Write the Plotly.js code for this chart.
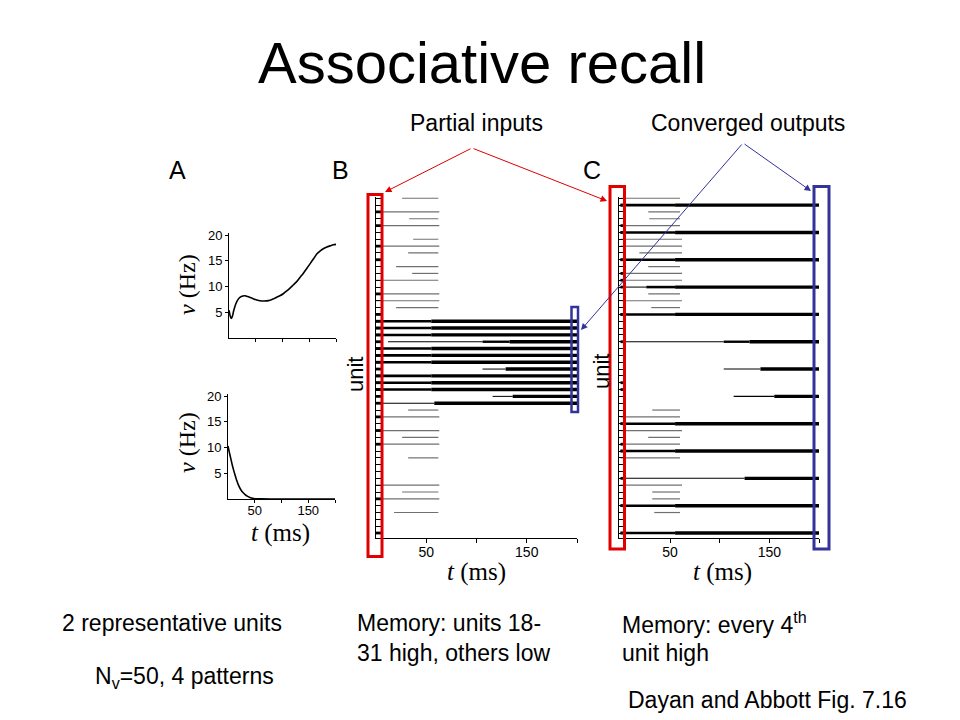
<!DOCTYPE html>
<html><head><meta charset="utf-8">
<script src="https://cdn.plot.ly/plotly-3.0.1.min.js"></script>
<style>html,body{margin:0;padding:0;background:#fff}</style>
</head><body><div id="chart" style="width:960px;height:720px"></div>
<script>
// ---------- Panel A: two representative units ----------
const tTop = [0,2,4,6,9,13,17,21,26,30,35,40,46,52,58,64,70,77,83,89,96,102,108,114,120,127,133,139,146,152,158,164,170,177,183,189,195,200];
const vTop = [5.4,4.4,3.8,4.1,5.4,6.7,7.5,7.95,8.15,8.2,8.05,7.85,7.6,7.4,7.25,7.2,7.22,7.35,7.6,7.9,8.25,8.65,9.15,9.7,10.3,11.0,11.8,12.6,13.6,14.5,15.4,16.3,16.9,17.4,17.7,17.9,18.1,18.2];
const tBot = [0,2,4,6,8,10,13,16,20,24,28,32,36,40,44,48,52,60,80,120,160,200];
const vBot = [10.3,9.3,8.4,7.5,6.6,5.8,4.7,3.7,2.6,1.8,1.25,0.85,0.55,0.35,0.2,0.1,0.05,0.02,0,0,0,0];
const aYTicks = [5,10,15,20];
const tTicks = [50,100,150,200];
const tTickText = ['50','','150',''];

// ---------- Panel B: memory units 18-31 high ----------
const bLowUnit  = [1,3,4,5,7,8,9,11,12,13,15,16,17,32,33,35,36,37,39,43,44,45,47];
const bLowStart = [26,0,33,0,37,0,32,20,36,0,0,0,20,32,0,0,26,0,32,0,26,0,18];
const bLowEnd   = [62,63,62,63,62,63,62,62,62,62,63,63,62,62,63,63,62,63,62,63,62,63,62];
const bHighUnit  = [19,19,20,20,21,21,22,22,22,23,23,24,24,25,25,26,26,27,27,28,28,29,29,30,30,31,31];
const bHighStart = [0,55,0,55,0,55,12,106,133,0,55,0,55,0,55,106,129,0,55,0,55,0,55,116,136,0,58];
const bHighEnd   = [55,200,55,200,55,200,106,133,200,55,200,55,200,55,200,129,200,55,200,55,200,55,200,136,200,58,200];
const bHighRate  = [15,20,15,20,15,20,6,14,20,15,20,15,20,15,20,6,20,15,20,15,20,15,20,6,20,7,20];
const bInputUnit = [3,5,8,10,15,18,19,20,21,22,23,24,25,26,27,28,29,30,31,33,35,37,45,50];

// ---------- Panel C: memory every 4th unit high ----------
const cLowUnit  = [1,3,4,5,7,8,9,11,12,13,15,16,17,32,33,35,36,37,39,43,44,45,47];
const cLowStart = [0,28,29,0,0,0,19,28,0,0,28,0,31,32,0,0,28,0,0,0,32,32,34];
const cLowEnd   = [60,60,60,60,62,62,62,60,62,62,60,62,60,60,60,62,60,60,60,62,60,60,60];
const cHighUnit  = [2,2,6,6,10,10,14,14,14,18,18,22,22,22,26,26,30,30,34,34,38,38,42,42,46,46,50,50];
const cHighStart = [0,55,0,55,0,55,0,26,55,0,55,0,104,130,104,141,114,155,0,55,0,55,0,125,0,55,0,55];
const cHighEnd   = [55,200,55,200,55,200,26,55,200,55,200,104,130,200,141,200,155,200,55,200,55,200,125,200,55,200,55,200];
const cHighRate  = [15,20,15,20,15,20,6,15,20,15,20,6,14,20,6,20,6,20,15,20,15,20,6,20,15,20,15,20];
const cInputUnit = [2,5,6,10,12,13,14,18,22,28,29,34,37,38,42,46,50];
const inputDuration = 5;

// ---------- helpers ----------
const W = 960, H = 720;
const P = px => px / W;
const Q = py => 1 - py / H;
const rateWidth = r => 0.17 * r;

function segTrace(units, starts, ends, xa, ya, width, color) {
  const x = [], y = [];
  for (let i = 0; i < units.length; i++) { x.push(starts[i], ends[i], null); y.push(units[i], units[i], null); }
  return {type:'scatter', mode:'lines', x, y, xaxis:xa, yaxis:ya, line:{width, color}, hoverinfo:'skip', showlegend:false};
}
function highTraces(units, starts, ends, rates, xa, ya) {
  const levels = [...new Set(rates)];
  return levels.map(lv => {
    const idx = rates.map((r,i)=> r===lv ? i : -1).filter(i=>i>=0);
    return segTrace(idx.map(i=>units[i]), idx.map(i=>starts[i]), idx.map(i=>ends[i]), xa, ya, rateWidth(lv), '#000');
  });
}
function inputTrace(units, xa, ya) {
  return segTrace(units, units.map(()=>0), units.map(()=>inputDuration), xa, ya, 2.8, '#000');
}

const traces = [
  {type:'scatter', mode:'lines', x:tTop, y:vTop, xaxis:'x', yaxis:'y', line:{color:'#000', width:1.6, shape:'spline', smoothing:0.8}, showlegend:false, hoverinfo:'skip'},
  {type:'scatter', mode:'lines', x:tBot, y:vBot, xaxis:'x2', yaxis:'y2', line:{color:'#000', width:1.6, shape:'spline'}, showlegend:false, hoverinfo:'skip'},
  segTrace(bLowUnit, bLowStart, bLowEnd, 'x3', 'y3', 1.2, '#707070'),
  ...highTraces(bHighUnit, bHighStart, bHighEnd, bHighRate, 'x3', 'y3'),
  inputTrace(bInputUnit, 'x3', 'y3'),
  segTrace(cLowUnit, cLowStart, cLowEnd, 'x4', 'y4', 1.2, '#707070'),
  ...highTraces(cHighUnit, cHighStart, cHighEnd, cHighRate, 'x4', 'y4'),
  inputTrace(cInputUnit, 'x4', 'y4')
];

const tickFont = {family:'Liberation Sans, Arial, sans-serif', size:13, color:'#000'};
const baseAxis = {showgrid:false, zeroline:false, showline:true, linecolor:'#000', linewidth:1, ticks:'outside', ticklen:4, tickcolor:'#000', tickfont:tickFont, fixedrange:true};

const unitRange = [50.73, 0.77];
const unitTicks = Array.from({length:50}, (_,i)=>i+1);

const layout = {
  width:W, height:H, autosize:false,
  margin:{l:0, r:0, t:0, b:0},
  paper_bgcolor:'#fff', plot_bgcolor:'rgba(0,0,0,0)',
  showlegend:false,
  xaxis: Object.assign({}, baseAxis, {domain:[P(229), P(336)], range:[0,200], anchor:'y', tickvals:tTicks, ticktext:['','','',''], ticklen:3}),
  yaxis: Object.assign({}, baseAxis, {domain:[Q(338), Q(233)], range:[0,20.4], anchor:'x', tickvals:aYTicks, ticklen:3}),
  xaxis2: Object.assign({}, baseAxis, {domain:[P(228), P(335)], range:[0,200], anchor:'y2', tickvals:tTicks, ticktext:tTickText, ticklen:3, ticklabelstandoff:-4}),
  yaxis2: Object.assign({}, baseAxis, {domain:[Q(499), Q(394)], range:[0,20.4], anchor:'x2', tickvals:aYTicks, ticklen:3}),
  xaxis3: Object.assign({}, baseAxis, {domain:[P(376), P(577)], range:[0,200], anchor:'y3', tickvals:tTicks, ticktext:tTickText, ticklabelstandoff:-3, tickfont:Object.assign({}, tickFont, {size:14})}),
  yaxis3: Object.assign({}, baseAxis, {domain:[Q(538), Q(196.7)], range:unitRange, anchor:'x3', tickvals:unitTicks, ticks:'inside', ticklen:5, showticklabels:false}),
  xaxis4: Object.assign({}, baseAxis, {domain:[P(619), P(819)], range:[-1.5,200], anchor:'y4', tickvals:tTicks, ticktext:tTickText, ticklabelstandoff:-3, tickfont:Object.assign({}, tickFont, {size:14})}),
  yaxis4: Object.assign({}, baseAxis, {domain:[Q(538), Q(196.7)], range:unitRange, anchor:'x4', tickvals:unitTicks, ticks:'inside', ticklen:5, showticklabels:false}),
  shapes: [
    {type:'rect', xref:'paper', yref:'paper', x0:P(368), x1:P(382), y0:Q(556.5), y1:Q(194.5), line:{color:'#e00000', width:3}},
    {type:'rect', xref:'paper', yref:'paper', x0:P(610), x1:P(624.5), y0:Q(549), y1:Q(186.5), line:{color:'#e00000', width:3}},
    {type:'rect', xref:'paper', yref:'paper', x0:P(571.5), x1:P(578), y0:Q(412), y1:Q(307), line:{color:'#333399', width:2.5}},
    {type:'rect', xref:'paper', yref:'paper', x0:P(814), x1:P(829), y0:Q(549), y1:Q(186.5), line:{color:'#333399', width:3}}
  ],
  annotations: []
};

const sans = 'Liberation Sans, Arial, sans-serif';
const serif = 'Liberation Serif, DejaVu Serif, serif';
function txt(text, x, y, size, opts) {
  return Object.assign({text, xref:'paper', yref:'paper', x:P(x), y:Q(y), showarrow:false, xanchor:'center', yanchor:'middle', font:{family:sans, size, color:'#000'}}, opts||{});
}
function arrow(tipX, tipY, tailX, tailY, color) {
  return {text:'', xref:'paper', yref:'paper', x:P(tipX), y:Q(tipY), ax:tailX-tipX, ay:tailY-tipY, axref:'pixel', ayref:'pixel',
          showarrow:true, arrowhead:2, arrowsize:1.3, arrowwidth:1, arrowcolor:color, standoff:0};
}

layout.annotations.push(
  txt('Associative recall', 482, 62, 58),
  txt('Partial inputs', 476, 123, 23),
  txt('Converged outputs', 748, 123, 23),
  txt('A', 177, 170, 25),
  txt('B', 340, 170, 25),
  txt('C', 592, 170, 25),
  txt('<i>v</i> (Hz)', 187, 285, 24, {textangle:-90, font:{family:serif, size:24, color:'#000'}}),
  txt('<i>v</i> (Hz)', 187, 443, 24, {textangle:-90, font:{family:serif, size:24, color:'#000'}}),
  txt('<i>t</i> (ms)', 280, 533, 25, {font:{family:serif, size:25, color:'#000'}}),
  txt('<i>t</i> (ms)', 476, 572, 25, {font:{family:serif, size:25, color:'#000'}}),
  txt('<i>t</i> (ms)', 722, 572, 25, {font:{family:serif, size:25, color:'#000'}}),
  txt('unit', 355, 375, 22, {textangle:-90}),
  txt('unit', 601, 372, 22, {textangle:-90}),
  txt('2 representative units', 60, 623, 23, {xanchor:'left'}),
  txt('N<sub>v</sub>=50, 4 patterns', 93, 677, 23, {xanchor:'left'}),
  txt('Memory: units 18-', 355, 623, 23, {xanchor:'left'}),
  txt('31 high, others low', 355, 653, 23, {xanchor:'left'}),
  txt('Memory: every 4<sup>th</sup>', 620, 623, 23, {xanchor:'left'}),
  txt('unit high', 620, 653, 23, {xanchor:'left'}),
  txt('Dayan and Abbott Fig. 7.16', 626, 700, 23, {xanchor:'left'}),
  arrow(385, 192, 472, 148, '#e00000'),
  arrow(607, 201, 472, 148, '#e00000'),
  arrow(581, 330, 743, 143, '#333399'),
  arrow(811, 191, 743, 143, '#333399')
);

Plotly.newPlot('chart', traces, layout, {staticPlot:true, displayModeBar:false});
</script>
</body></html>
